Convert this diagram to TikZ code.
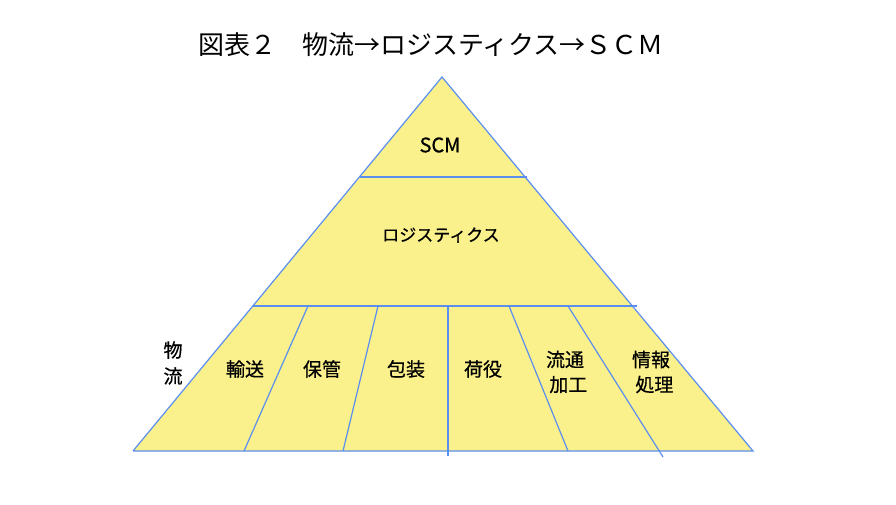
\documentclass[tikz,border=0pt]{standalone}
\usepackage{fontspec}
\setmainfont{Noto Sans CJK JP}
\newfontfamily\labelfont{Noto Sans CJK JP}[BoldFont={Noto Sans CJK JP}, BoldFeatures={FakeBold=0.6}]
\begin{document}
\begin{tikzpicture}[
			x=1pt, y=-1pt,
			band/.style = {draw=lineblue, line width=1.2pt},
			label/.style = {font=\labelfont\bfseries\fontsize{19}{23}\selectfont, align=center, inner sep=0pt},
			]
			\definecolor{lineblue}{HTML}{5B8FEF}
			\definecolor{fillyellow}{HTML}{FAF08C}
			\useasboundingbox (0,0) rectangle (896,504);
			% pyramid corners
			\coordinate (apex) at (442,77);
			\coordinate (bl) at (133,451);
			\coordinate (br) at (753,451);
			\fill[fillyellow] (apex) -- (bl) -- (br) -- cycle;
			\draw[band] (bl) -- (apex) -- (br) -- (bl);
			% levels
			\draw[band] (360,177) -- (527,177);
			\draw[band] (253,306) -- (637,306);
			% dividers of the bottom level
			\draw[band] (308,306) -- (244,451);
			\draw[band] (378,306) -- (343,451);
			\draw[band] (448,306) -- (448,456);
			\draw[band] (509,306) -- (568,451);
			\draw[band] (568,306) -- (663,457);
			% texts
			\node[font=\fontsize{26}{30}\selectfont, inner sep=0pt] (title) at (431,45) {図表２　物流→ロジスティクス→ＳＣＭ};
			\node[label, font=\labelfont\bfseries\fontsize{20}{24}\selectfont] (scm) at (440,145) {SCM};
			\node[label, font=\labelfont\bfseries\fontsize{17}{21}\selectfont] (logi) at (441,235) {ロジスティクス};
			\node[label, font=\labelfont\bfseries\fontsize{19}{26}\selectfont] (butsuryu) at (173,363) {物\\流};
			\node[label] (yuso) at (245,369) {輸送};
			\node[label] (hokan) at (322,369) {保管};
			\node[label] (hoso) at (406,369) {包装};
			\node[label] (niyaku) at (483,369) {荷役};
			\node[label, font=\labelfont\bfseries\fontsize{19}{25}\selectfont] (ryutsu) at (565,372) {流通\\\hspace*{0.35em}加工};
			\node[label, font=\labelfont\bfseries\fontsize{19}{25}\selectfont] (joho) at (651,372) {情報\\\hspace*{0.35em}処理};
\end{tikzpicture}
\end{document}
